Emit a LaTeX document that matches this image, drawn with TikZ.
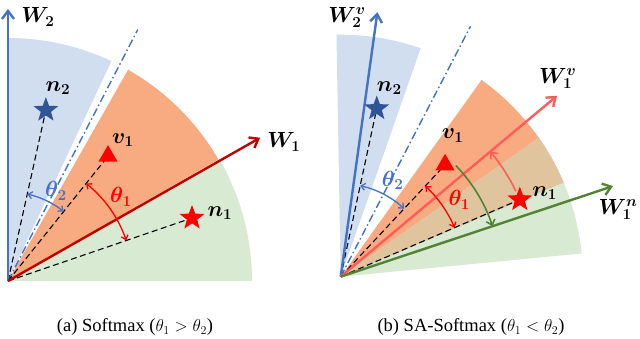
\documentclass[tikz,border=0pt]{standalone}
\usepackage{fontspec}
\setmainfont{Liberation Serif}
\usepackage{amsmath,bm}
\usetikzlibrary{arrows.meta, shapes.geometric, positioning}
\definecolor{wblue}{HTML}{4472C4}
\definecolor{wred}{HTML}{C00000}
\definecolor{wlightred}{HTML}{FF5B5B}
\definecolor{wgreen}{HTML}{548235}
\definecolor{stardblue}{HTML}{2F5597}
\definecolor{sblue}{HTML}{D0DEEF}
\definecolor{sorange}{HTML}{F8AA80}
\definecolor{sgreen}{HTML}{D9EAD3}
\definecolor{stan}{HTML}{E0C49E}
\tikzset{
  waxis/.style={line width=2.4pt, -{Straight Barb[length=8pt, width=12pt, line width=2.4pt]}},
  guide/.style={black, line width=1.1pt, dash pattern=on 6pt off 3.5pt},
  bound/.style={wblue, line width=1.4pt, dash pattern=on 8pt off 3pt on 1.5pt off 3pt},
  anglearc/.style={line width=1.3pt, {Straight Barb[length=4pt, width=7pt]}-{Straight Barb[length=4pt, width=7pt]}},
  onearc/.style={line width=1.6pt, -{Straight Barb[length=5pt, width=9pt]}},
  starmark/.style={star, star points=5, star point ratio=2.4, minimum size=26pt, inner sep=0pt},
  trimark/.style={regular polygon, regular polygon sides=3, fill=red, minimum size=22pt, inner sep=0pt},
  lbl/.style={font=\fontsize{17.28}{20}\selectfont, scale=1.27},
  captext/.style={font=\fontsize{18.5}{20}\selectfont}
}
\begin{document}
\begin{tikzpicture}[x=1pt,y=1pt]
  \useasboundingbox (0,0) rectangle (640,338);

  % (a) Softmax
  \begin{scope}[shift={(8,57)}]
    \coordinate (oa) at (0,0);
    \fill[sblue] (oa) -- (64.8:243) arc[start angle=64.8, end angle=90, radius=243] -- cycle;
    \fill[sorange] (oa) -- (30:243) arc[start angle=30, end angle=60.4, radius=243] -- cycle;
    \fill[sgreen] (oa) -- (0:244) arc[start angle=0, end angle=30, radius=244] -- cycle;
    \coordinate (bda) at (62.7:283);
    \draw[bound] (oa) -- (bda);

    \coordinate (pn2a) at (77.5:175);
    \coordinate (pv1a) at (51.3:160);
    \coordinate (pn1a) at (18.9:194.5);
    \draw[guide] (oa) -- (pn2a);
    \draw[guide] (oa) -- (pv1a);
    \draw[guide] (oa) -- (pn1a);

    \coordinate (w2a) at (90:272);
    \coordinate (w1a) at (29.6:290);
    \draw[waxis, wblue] (oa) -- (w2a);
    \draw[waxis, wred] (oa) -- (w1a);

    \node[starmark, fill=stardblue] (n2a) at (pn2a) {};
    \node[trimark] (v1a) at (pv1a) {};
    \node[starmark, fill=red] (n1a) at (pn1a) {};

    \draw[anglearc, wblue] (77.5:89) arc[start angle=77.5, end angle=51.3, radius=89];
    \draw[anglearc, red] (51.3:125) arc[start angle=51.3, end angle=18.9, radius=125];

    \node[lbl] (lw2a) at (30,264) {$\bm{W}_{\bm{2}}$};
    \node[lbl] (lw1a) at (276,139) {$\bm{W}_{\bm{1}}$};
    \node[lbl] (ln2a) at (50,193) {$\bm{n}_{\bm{2}}$};
    \node[lbl] (lv1a) at (115,141) {$\bm{v}_{\bm{1}}$};
    \node[lbl] (ln1a) at (212,68) {$\bm{n}_{\bm{1}}$};
    \node[lbl, text=red] (lt1a) at (113,84) {$\bm{\theta}_{\bm{1}}$};
    \node[lbl, text=wblue] (lt2a) at (48,90) {$\bm{\theta}_{\bm{2}}$};
  \end{scope}

  % (b) SA-Softmax
  \begin{scope}[shift={(340.7,61.3)}]
    \coordinate (ob) at (0,0);
    \fill[sblue] (ob) -- (70.7:242) arc[start angle=70.7, end angle=91, radius=242] -- cycle;
    \fill[sorange] (ob) -- (22.9:242) arc[start angle=22.9, end angle=54.4, radius=242] -- cycle;
    \fill[sgreen] (ob) -- (5.5:242) arc[start angle=5.5, end angle=35, radius=242] -- cycle;
    \fill[stan] (ob) -- (22.9:242) arc[start angle=22.9, end angle=35, radius=242] -- cycle;
    \coordinate (bdb) at (62.6:282);
    \draw[bound] (ob) -- (bdb);

    \coordinate (pn2b) at (77.9:172);
    \coordinate (pv1b) at (47:153);
    \coordinate (pn1b) at (23.3:195);
    \draw[guide] (ob) -- (pn2b);
    \draw[guide] (ob) -- (pv1b);
    \draw[guide] (ob) -- (pn1b);

    \coordinate (w2b) at (82.1:267);
    \coordinate (w1vb) at (39.9:282);
    \coordinate (w1nb) at (18.4:287);
    \draw[waxis, wblue] (ob) -- (w2b);
    \draw[waxis, wlightred] (ob) -- (w1vb);
    \draw[waxis, wgreen] (ob) -- (w1nb);

    \node[starmark, fill=stardblue] (n2b) at (pn2b) {};
    \node[starmark, fill=red] (n1b) at (pn1b) {};

    \draw[anglearc, wblue] (77.9:93) arc[start angle=77.9, end angle=47, radius=93];
    \draw[anglearc, red] (47:124) arc[start angle=47, end angle=23.3, radius=124];
    \draw[onearc, wgreen] (44:160) arc[start angle=44, end angle=18.4, radius=160];
    \draw[onearc, wlightred] (26:195) arc[start angle=26, end angle=39.9, radius=195];
    \node[trimark] (v1b) at (pv1b) {};

    \node[lbl, anchor=north, inner sep=1pt] (lw2b) at (6.3,271) {$\bm{W}_{\bm{2}}^{\bm{v}}$};
    \node[lbl] (lw1vb) at (217,198) {$\bm{W}_{\bm{1}}^{\bm{v}}$};
    \node[lbl, anchor=east, inner sep=1pt] (lw1nb) at (298.5,67) {$\bm{W}_{\bm{1}}^{\bm{n}}$};
    \node[lbl] (ln2b) at (48.6,188.4) {$\bm{n}_{\bm{2}}$};
    \node[lbl] (lv1b) at (112,141) {$\bm{v}_{\bm{1}}$};
    \node[lbl] (ln1b) at (204,83.4) {$\bm{n}_{\bm{1}}$};
    \node[lbl, text=red] (lt1b) at (118.6,76.7) {$\bm{\theta}_{\bm{1}}$};
    \node[lbl, text=wblue] (lt2b) at (52,96) {$\bm{\theta}_{\bm{2}}$};
  \end{scope}

  % captions
  \node[captext] (capa) at (135,11) {(a) Softmax ($\theta_1 > \theta_2$)};
  \node[captext] (capb) at (471,11) {(b) SA-Softmax ($\theta_1 < \theta_2$)};
\end{tikzpicture}
\end{document}
